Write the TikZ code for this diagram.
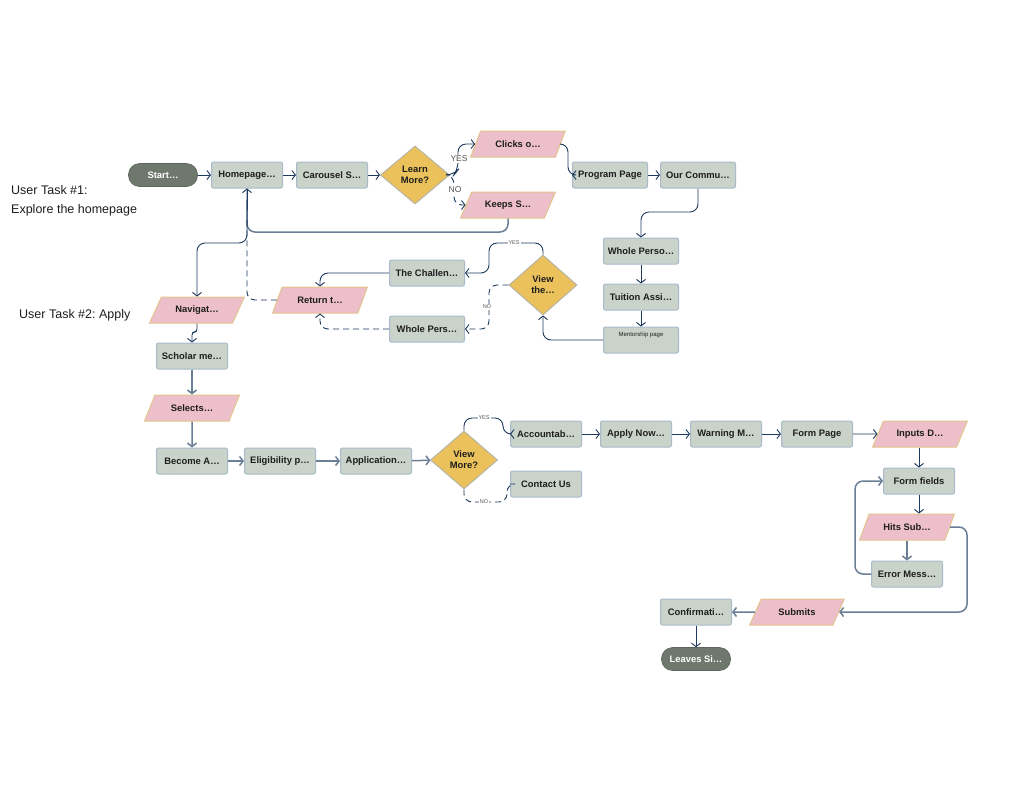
\documentclass[tikz,border=0pt]{standalone}
\usepackage{fontspec}
\setmainfont{Liberation Sans}
\frenchspacing
\usetikzlibrary{shapes.geometric,arrows.meta}
\definecolor{boxfill}{HTML}{C9D3CA}
\definecolor{boxline}{HTML}{A9BACB}
\definecolor{parafill}{HTML}{EDBFCB}
\definecolor{paraline}{HTML}{E2C48C}
\definecolor{diafill}{HTML}{EBC15B}
\definecolor{dialine}{HTML}{B7B3A5}
\definecolor{pillfill}{HTML}{6E786C}
\definecolor{navy}{HTML}{1E3A5F}
\definecolor{slate}{HTML}{6A7E96}
\definecolor{lbl}{HTML}{555555}
\definecolor{txt}{HTML}{1E1E1E}
\tikzset{
  lab/.style={font=\bfseries\fontsize{9.4}{11}\selectfont, text=txt},
  box/.style={lab, draw=boxline, fill=boxfill, line width=1pt, rounded corners=2pt, minimum width=71pt, minimum height=26pt, inner sep=1pt},
  para/.style={lab, trapezium, trapezium left angle=55, trapezium right angle=125, trapezium stretches=true, draw=paraline, fill=parafill, line width=1pt, minimum width=95pt, minimum height=26pt, inner sep=1pt},
  dia/.style={lab, diamond, draw=dialine, fill=diafill, line width=1pt, minimum width=69pt, minimum height=58pt, align=center, inner sep=0pt},
  pill/.style={lab, text=white, rectangle, rounded corners=11pt, fill=pillfill, draw=pillfill!85!black, line width=0.6pt, minimum width=69pt, minimum height=23pt},
  conn/.style={draw=navy, line width=0.9pt, -{Straight Barb[length=3.5pt,width=9pt]}, rounded corners=8pt},
  sconn/.style={conn, draw=slate, line width=1.5pt},
  dconn/.style={conn, dash pattern=on 6pt off 4pt},
  yn/.style={font=\fontsize{8.5}{9}\selectfont, text=lbl, fill=white, inner sep=1pt},
  syn/.style={font=\fontsize{5.5}{6}\selectfont, text=lbl, fill=white, inner sep=1pt},
  task/.style={font=\fontsize{12.5}{14}\selectfont, text=txt, anchor=west, inner sep=0pt}
}
\begin{document}
\begin{tikzpicture}[x=1pt,y=-1pt]
\useasboundingbox[fill=white] (0,0) rectangle (1022,804);
% texts
\node[task] (t1a) at (11,190) {User Task \#1:};
\node[task] (t1b) at (11,210) {Explore the homepage};
\node[task] (t2) at (19,315) {User Task \#2: Apply};
% row 1
\node[pill] (start) at (163,175) {Start…};
\node[box] (home) at (247,175) {Homepage…};
\node[box] (car) at (332,175) {Carousel S…};
\node[dia] (learn) at (415,175) {Learn\\More?};
\node[para] (clicks) at (518,144) {Clicks o…};
\node[para] (keeps) at (508,205) {Keeps S…};
\node[box, minimum width=75pt] (prog) at (610,175) {Program Page};
\node[box, minimum width=75pt] (comm) at (698,175) {Our Commu…};
\node[box, minimum width=75pt] (whole1) at (641,251) {Whole Perso…};
\node[box, minimum width=75pt] (tuit) at (641,297) {Tuition Assi…};
\node[box, minimum width=75pt] (ment) at (641,340) {};
\node[font=\fontsize{6}{7}\selectfont, text=txt] (mentt) at (641,335) {Mentorship page};
\node[dia, minimum width=68pt, minimum height=60pt] (viewthe) at (543,285) {View\\the…};
\node[box, minimum width=75pt] (chall) at (427,273) {The Challen…};
\node[box, minimum width=75pt] (whole2) at (427,329) {Whole Pers…};
\node[para] (ret) at (320,300) {Return t…};
\node[para] (nav) at (197,310) {Navigat…};
\node[box] (schol) at (192,356) {Scholar me…};
\node[para] (sel) at (192,408) {Selects…};
\node[box] (become) at (192,461) {Become A…};
\node[box] (elig) at (280,461) {Eligibility p…};
\node[box] (appl) at (376,461) {Application…};
\node[dia, minimum width=67pt] (viewmore) at (464,460) {View\\More?};
\node[box] (acc) at (546,434) {Accountab…};
\node[box] (contact) at (546,484) {Contact Us};
\node[box] (apply) at (636,434) {Apply Now…};
\node[box] (warn) at (726,434) {Warning M…};
\node[box] (form) at (817,434) {Form Page};
\node[para] (inputs) at (920,434) {Inputs D…};
\node[box] (fields) at (919,481) {Form fields};
\node[para] (hits) at (907,527) {Hits Sub…};
\node[box] (err) at (907,574) {Error Mess…};
\node[para] (subm) at (797,612) {Submits};
\node[box] (conf) at (696,612) {Confirmati…};
\node[pill] (leave) at (696,659) {Leaves Si…};
% connectors row 1
\draw[conn] (start) -- (home);
\draw[conn] (home) -- (car);
\draw[conn] (car) -- (learn);
\draw[conn] (learn.east) -- (454,175) -- (458,170) -- (458,144) -- (clicks.west);
\node[yn] (yes1) at (459,159) {YES};
\draw[dconn] (learn.east) -- (454,176) -- (454,205) -- (keeps.west);
\node[yn] (no1) at (455,190) {NO};
\draw[conn] (clicks.east) -- (568,144) -- (568,175) -- (prog.west);
\draw[conn] (prog) -- (comm);
\draw[sconn, -] (keeps.south) -- (508,232) -- (247,232) -- (247,200);
\draw[conn] (247,210) -- (home.south);
\draw[conn] (home.south) -- (247,243) -- (197,243) -- (nav.north);
\draw[dconn, -] (ret.west) -- (247,300) -- (247,220);
\draw[conn] (comm.south) -- (698,212) -- (641,212) -- (whole1.north);
\draw[conn] (whole1) -- (tuit);
\draw[conn] (tuit) -- (ment);
\draw[conn] (ment.west) -- (543,340) -- (viewthe.south);
\draw[conn] (viewthe.north) -- (543,243) -- (489,243) -- (489,273) -- (chall.east);
\node[syn] (yes2) at (514,243) {YES};
\draw[dconn] (viewthe.west) -- (489,285) -- (489,329) -- (whole2.east);
\node[syn] (no2) at (487,307) {NO};
\draw[conn] (chall.west) -- (320,273) -- (ret.north);
\draw[dconn] (whole2.west) -- (320,329) -- (ret.south);
% task 2
\draw[conn, rounded corners=3pt] (nav.south) -- (197,332) -- (192,332) -- (schol.north);
\draw[sconn] (schol) -- (sel);
\draw[sconn] (sel.south) -- (become.north);
\draw[sconn] (become) -- (elig);
\draw[sconn] (elig) -- (appl);
\draw[sconn] (appl) -- (viewmore);
\draw[conn] (viewmore.north) -- (464,418) -- (503,418) -- (503,434) -- (acc.west);
\node[syn] (yes3) at (484,418) {YES};
\draw[dconn, -] (viewmore.south) -- (464,502) -- (507,502) -- (507,484) -- (contact.west);
\node[syn] (no3) at (484,502) {NO};
\draw[conn] (acc) -- (apply);
\draw[conn] (apply) -- (warn);
\draw[conn] (warn) -- (form);
\draw[conn] (form) -- (inputs);
\draw[conn] (inputs.south -| fields.north) -- (fields.north);
\draw[conn] (fields) -- (fields.south |- hits.north);
\draw[sconn] (hits.south -| err.north) -- (err.north);
\draw[sconn] (err.west) -- (855,574) -- (855,481) -- (fields.west);
\draw[sconn] (hits.east) -- (967,527) -- (967,612) -- (subm.east);
\draw[sconn] (subm) -- (conf);
\draw[conn] (conf) -- (leave);
\end{tikzpicture}
\end{document}
